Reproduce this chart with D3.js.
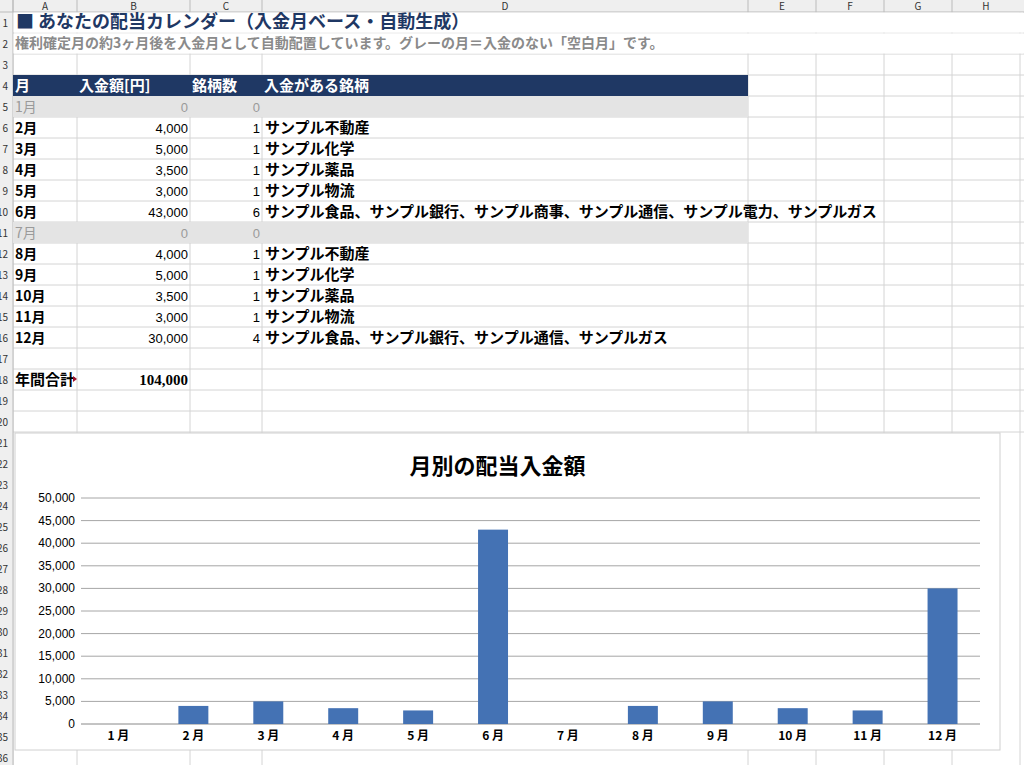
<!DOCTYPE html><html><head><meta charset="utf-8">
<script src="https://cdn.jsdelivr.net/npm/d3@7"></script>
<style>body{margin:0;background:#fff;font-family:"Noto Sans CJK JP",sans-serif}</style></head><body>
<svg id="s" width="1024" height="765"></svg>
<script>
const months=["1月","2月","3月","4月","5月","6月","7月","8月","9月","10月","11月","12月"];
const amounts=[0,4000,5000,3500,3000,43000,0,4000,5000,3500,3000,30000];
const counts=[0,1,1,1,1,6,0,1,1,1,1,4];
const stocks=["","サンプル不動産","サンプル化学","サンプル薬品","サンプル物流","サンプル食品、サンプル銀行、サンプル商事、サンプル通信、サンプル電力、サンプルガス","","サンプル不動産","サンプル化学","サンプル薬品","サンプル物流","サンプル食品、サンプル銀行、サンプル通信、サンプルガス"];
const chartLabels=["1 月","2 月","3 月","4 月","5 月","6 月","7 月","8 月","9 月","10 月","11 月","12 月"];
const yTicks=[0,5000,10000,15000,20000,25000,30000,35000,40000,45000,50000];
const colLetters=["A","B","C","D","E","F","G","H"];
const colX=[13,77,190,262,748,816,884,952,1020];
const svg=d3.select("#s");
const fmt=d3.format(",");
const rowH=21, top0=12;
const rowY=r=>top0+(r-1)*rowH;
for(let r=1;r<=21;r++){svg.append("line").attr("x1",0).attr("x2",1024).attr("y1",rowY(r)).attr("y2",rowY(r)).attr("stroke","#d4d4d4");}
colX.forEach(x=>svg.append("line").attr("x1",x).attr("x2",x).attr("y1",0).attr("y2",765).attr("stroke","#d4d4d4"));
svg.append("rect").attr("x",0).attr("y",0).attr("width",1024).attr("height",top0).attr("fill","#efefef");
svg.append("rect").attr("x",0).attr("y",0).attr("width",13).attr("height",765).attr("fill","#efefef");
svg.append("line").attr("x1",0).attr("x2",1024).attr("y1",top0).attr("y2",top0).attr("stroke","#bbb");
svg.append("line").attr("x1",13).attr("x2",13).attr("y1",0).attr("y2",765).attr("stroke","#bbb");
colLetters.forEach((c,i)=>{svg.append("text").attr("x",(colX[i]+colX[i+1])/2).attr("y",10).attr("text-anchor","middle").attr("font-size",10).attr("fill","#333").text(c);
 svg.append("line").attr("x1",colX[i]).attr("x2",colX[i]).attr("y1",0).attr("y2",top0).attr("stroke","#bbb");});
for(let r=1;r<=36;r++){svg.append("text").attr("x",8).attr("y",rowY(r)+15).attr("text-anchor","end").attr("font-size",10).attr("fill","#333").text(r);}
svg.append("rect").attr("x",13.5).attr("y",rowY(1)+0.5).attr("width",1010).attr("height",rowH-1).attr("fill","#fff");
svg.append("text").attr("x",16).attr("y",rowY(1)+16).attr("font-size",18).attr("font-weight","bold").attr("fill","#1f3864").text("■ あなたの配当カレンダー（入金月ベース・自動生成）");
svg.append("rect").attr("x",13.5).attr("y",rowY(2)+0.5).attr("width",1010).attr("height",rowH-1).attr("fill","#fff");
svg.append("text").attr("x",15).attr("y",rowY(2)+15).attr("font-size",14).attr("font-weight","bold").attr("fill","#8a8a8a").text("権利確定月の約3ヶ月後を入金月として自動配置しています。グレーの月＝入金のない「空白月」です。");
const hy=rowY(4);
svg.append("rect").attr("x",13).attr("y",hy).attr("width",748-13).attr("height",rowH).attr("fill","#1f3864");
[["月",15],["入金額[円]",79],["銘柄数",192],["入金がある銘柄",264]].forEach(([t,x])=>svg.append("text").attr("x",x).attr("y",hy+16).attr("font-size",15).attr("font-weight","bold").attr("fill","#fff").text(t));
months.forEach((m,i)=>{const y=rowY(5+i);const empty=amounts[i]===0;const col=empty?"#9a9a9a":"#000";
 if(empty){svg.append("rect").attr("x",13).attr("y",y).attr("width",748-13).attr("height",rowH).attr("fill","#e4e4e4");}
 svg.append("text").attr("x",15).attr("y",y+16).attr("font-size",14).attr("font-weight",empty?"normal":"bold").attr("fill",col).text(m);
 svg.append("text").attr("x",188).attr("y",y+16).attr("text-anchor","end").attr("font-size",13).attr("font-family","Liberation Sans").attr("fill",col).text(fmt(amounts[i]));
 svg.append("text").attr("x",260).attr("y",y+16).attr("text-anchor","end").attr("font-size",13).attr("font-family","Liberation Sans").attr("fill",col).text(counts[i]);
 svg.append("text").attr("x",265).attr("y",y+16).attr("font-size",15).attr("font-weight","bold").attr("fill","#000").text(stocks[i]);
});
const ty=rowY(18);
svg.append("text").attr("x",15).attr("y",ty+16).attr("font-size",15).attr("font-weight","bold").text("年間合計");
svg.append("text").attr("x",188).attr("y",ty+16).attr("text-anchor","end").attr("font-size",15).attr("font-weight","bold").attr("font-family","Liberation Serif").text(fmt(d3.sum(amounts)));
svg.append("path").attr("d",`M73,${ty+7} l4,3 l-4,3 z`).attr("fill","#a0102a");
const cx=15,cy=433,cw=985,ch=317;
svg.append("rect").attr("x",cx).attr("y",cy).attr("width",cw).attr("height",ch).attr("fill","#fff").attr("stroke","#d0d0d0");
svg.append("text").attr("x",cx+cw/2-10).attr("y",474).attr("text-anchor","middle").attr("font-size",22).attr("font-weight","bold").text("月別の配当入金額");
const x=d3.scaleBand().domain(chartLabels).range([81,980]).paddingInner(0.6).paddingOuter(0.3);
const y=d3.scaleLinear().domain([0,50000]).range([724,498]);
yTicks.forEach(t=>{svg.append("line").attr("x1",81).attr("x2",980).attr("y1",y(t)).attr("y2",y(t)).attr("stroke",t===0?"#888":"#a6a6a6");
 svg.append("text").attr("x",75).attr("y",y(t)+4).attr("text-anchor","end").attr("font-size",12).attr("font-family","Liberation Sans").text(fmt(t));});
svg.selectAll(".bar").data(amounts).enter().append("rect").attr("x",(d,i)=>x(chartLabels[i])).attr("width",x.bandwidth()).attr("y",d=>y(d)).attr("height",d=>y(0)-y(d)).attr("fill","#4472b4");
chartLabels.forEach(l=>svg.append("text").attr("x",x(l)+x.bandwidth()/2).attr("y",740).attr("text-anchor","middle").attr("font-size",12).attr("font-weight","bold").text(l));
</script></body></html>
